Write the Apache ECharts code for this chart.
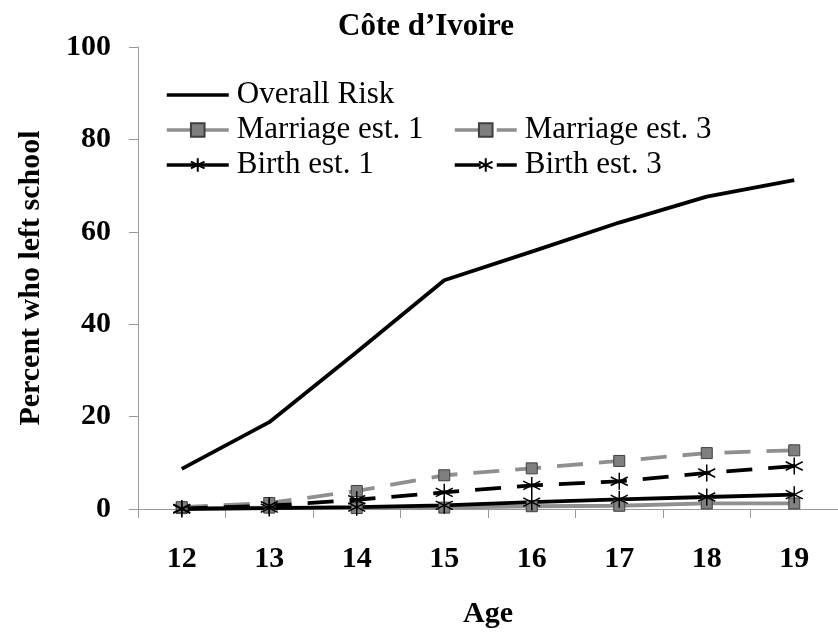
<!DOCTYPE html>
<html>
<head>
<meta charset="utf-8">
<script src="https://cdn.jsdelivr.net/npm/echarts@6/dist/echarts.min.js"></script>
<style>html,body{margin:0;padding:0;background:#fff}#c{width:838px;height:635px}</style>
</head>
<body>
<div id="c"></div>
<script>
const ages = ['12','13','14','15','16','17','18','19'];
const overallRisk = [8.7, 18.8, 34, 49.5, 55.7, 62, 67.6, 71.2];
const marriageEst1 = [0.2, 0.3, 0.2, 0.3, 0.6, 0.7, 1.2, 1.2];
const marriageEst3 = [0.4, 1.3, 3.9, 7.3, 8.8, 10.4, 12.1, 12.7];
const birthEst1 = [0.0, 0.2, 0.4, 0.8, 1.5, 2.1, 2.6, 3.1];
const birthEst3 = [0.1, 0.7, 2.0, 3.6, 5.1, 6.0, 7.8, 9.3];
const yTicks = [0, 20, 40, 60, 80, 100];

const FONT = 'Liberation Serif, Times New Roman, serif';
const GRAY = '#8f8f8f';
const star = 'path://M0,-1L0,1M-0.866,-0.5L0.866,0.5M-0.866,0.5L0.866,-0.5';
const chart = echarts.init(document.getElementById('c'));
const sqStyle = {color:'#7f7f7f', borderColor:'#3f3f3f', borderWidth:1};
const starStyle = {color:'#000', borderColor:'#000', borderWidth:1.5};
const legText = {fontFamily:FONT, fontSize:31, color:'#000', lineHeight:34, padding:[0,0,0,3]};
chart.setOption({
  animation:false,
  backgroundColor:'#fff',
  title:{text:'Côte d’Ivoire', left:333, top:6,
    textStyle:{fontFamily:FONT, fontWeight:'bold', fontSize:31, color:'#000'}},
  legend:[
    {data:[{name:'Overall Risk', itemStyle:{color:'rgba(0,0,0,0)', borderColor:'rgba(0,0,0,0)', borderWidth:0}},
           'Marriage est. 1','Birth est. 1'],
     orient:'vertical', left:165, top:78, padding:0,
     itemWidth:62, itemHeight:17, itemGap:1, lineStyle:{width:3.5},
     textStyle:legText},
    {data:['Marriage est. 3','Birth est. 3'], orient:'vertical', left:453, top:113, padding:0,
     itemWidth:62, itemHeight:17, itemGap:1, lineStyle:{width:3.5},
     textStyle:legText}
  ],
  grid:{left:138, top:47, width:705, bottom:126, containLabel:false},
  xAxis:{type:'category', data:ages, boundaryGap:true,
    name:'Age', nameLocation:'middle', nameGap:90,
    nameTextStyle:{fontFamily:FONT, fontWeight:'bold', fontSize:30, color:'#000'},
    axisLine:{lineStyle:{color:'#999', width:1}},
    axisTick:{show:true, length:9, alignWithLabel:false, lineStyle:{color:'#999'}},
    axisLabel:{fontFamily:FONT, fontWeight:'bold', fontSize:30, color:'#000', margin:35},
    splitLine:{show:false}},
  yAxis:{type:'value', min:yTicks[0], max:yTicks[yTicks.length-1], interval:20,
    name:'Percent who left school', nameLocation:'middle', nameGap:92, nameRotate:90,
    nameTextStyle:{fontFamily:FONT, fontWeight:'bold', fontSize:30, color:'#000'},
    axisLine:{show:true, lineStyle:{color:'#999', width:1}},
    axisTick:{show:true, length:9, lineStyle:{color:'#999'}},
    axisLabel:{fontFamily:FONT, fontWeight:'bold', fontSize:30, color:'#000', margin:27},
    splitLine:{show:false}},
  series:[
    {name:'Overall Risk', type:'line', data:overallRisk, symbol:'none',
     lineStyle:{color:'#000', width:3.8}, itemStyle:{color:'#000'}},
    {name:'Marriage est. 1', type:'line', data:marriageEst1, symbol:'rect', symbolSize:11,
     lineStyle:{color:GRAY, width:3.8}, itemStyle:sqStyle},
    {name:'Marriage est. 3', type:'line', data:marriageEst3, symbol:'rect', symbolSize:11,
     lineStyle:{color:GRAY, width:3.8, type:[26,16]}, itemStyle:sqStyle},
    {name:'Birth est. 1', type:'line', data:birthEst1, symbol:star, symbolSize:17,
     lineStyle:{color:'#000', width:3.8}, itemStyle:starStyle},
    {name:'Birth est. 3', type:'line', data:birthEst3, symbol:star, symbolSize:17,
     lineStyle:{color:'#000', width:3.8, type:[26,16]}, itemStyle:starStyle}
  ]
});
</script>
</body>
</html>
